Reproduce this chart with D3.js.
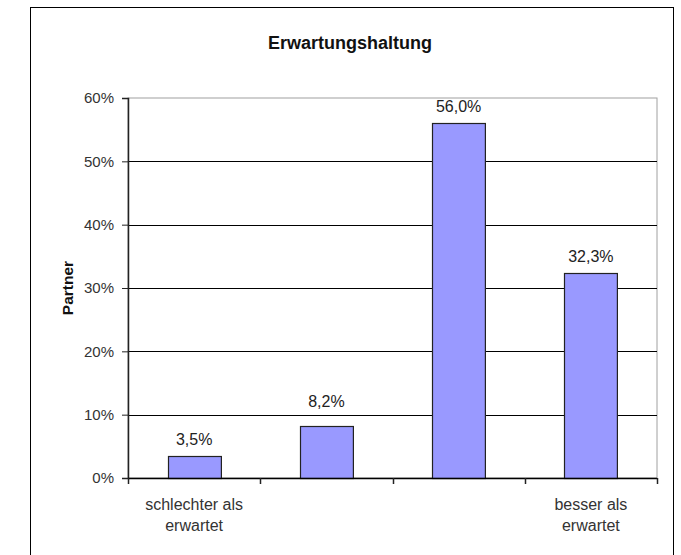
<!DOCTYPE html>
<html>
<head>
<meta charset="utf-8">
<script src="https://cdn.jsdelivr.net/npm/d3@7"></script>
<style>
  body { margin: 0; background: #fff; }
  svg { display: block; font-family: "Liberation Sans", Arial, sans-serif; }
</style>
</head>
<body>
<svg id="chart" width="681" height="555"></svg>
<script>
// chart data
const categories = ["schlechter als erwartet", "eher schlechter", "eher besser", "besser als erwartet"];
const categoryLabels = [["schlechter als", "erwartet"], [], [], ["besser als", "erwartet"]];
const values = [3.5, 8.2, 56.0, 32.3];
const yTicks = [0, 10, 20, 30, 40, 50, 60];

const svg = d3.select('#chart');
const width = 681, height = 555;
const margin = { top: 98, right: 24, bottom: 77, left: 128 };

// outer frame
svg.append("rect")
  .attr("x", 30.5).attr("y", 7.5)
  .attr("width", 643).attr("height", 560)
  .attr("fill", "#fff")
  .attr("stroke", "#000")
  .attr("stroke-width", 1);

const x = d3.scaleBand()
  .domain(categories)
  .range([margin.left, width - margin.right])
  .paddingInner(0.6)
  .paddingOuter(0.3);

const y = d3.scaleLinear()
  .domain([0, 60])
  .range([height - margin.bottom, margin.top]);

// plot area border (grey)
svg.append("rect")
  .attr("x", margin.left).attr("y", margin.top)
  .attr("width", width - margin.right - margin.left)
  .attr("height", y(0) - margin.top)
  .attr("fill", "none")
  .attr("stroke", "#a0a0a0")
  .attr("stroke-width", 1);

// gridlines
const gridValues = yTicks.filter(d => d > 0 && d < 60);
svg.append("g")
  .selectAll("line")
  .data(gridValues)
  .join("line")
  .attr("x1", margin.left)
  .attr("x2", width - margin.right)
  .attr("y1", d => Math.round(y(d)) + 0.5)
  .attr("y2", d => Math.round(y(d)) + 0.5)
  .attr("stroke", "#000")
  .attr("stroke-width", 1);

// bars
svg.append("g")
  .selectAll("rect")
  .data(values)
  .join("rect")
  .attr("x", (d, i) => Math.round(x(categories[i])) + 0.5)
  .attr("y", d => Math.round(y(d)) + 0.5)
  .attr("width", x.bandwidth())
  .attr("height", d => y(0) - Math.round(y(d)))
  .attr("fill", "#9999ff")
  .attr("stroke", "#222")
  .attr("stroke-width", 1.2);

// label baseline: above the bar, lifted over a gridline if they would cross
function labelY(v) {
  let base = y(v) - 11;
  gridValues.forEach(g => {
    const gy = y(g);
    if (gy > base - 13 && gy < base + 2) base = gy - 8;
  });
  return base;
}

// value labels
svg.append("g")
  .selectAll("text")
  .data(values)
  .join("text")
  .attr("x", (d, i) => x(categories[i]) + x.bandwidth() / 2)
  .attr("y", d => labelY(d))
  .attr("text-anchor", "middle")
  .style("font-size", "16px")
  .style("fill", "#222")
  .text(d => d3.format(".1f")(d).replace(".", ",") + "%");

// y axis
const yAxis = svg.append("g")
  .attr("transform", `translate(${margin.left},0)`)
  .call(d3.axisLeft(y).tickValues(yTicks).tickSize(6).tickPadding(8).tickFormat(d => d + "%"));
yAxis.select(".domain").attr("stroke", "#222").attr("stroke-width", 1.5);
yAxis.selectAll(".tick line").attr("stroke", "#222");
yAxis.selectAll(".tick text")
  .style("font-size", "15px")
  .style("fill", "#333")
  .style("font-family", "'Liberation Sans', Arial, sans-serif");

// x axis line and ticks at band boundaries
const bounds = d3.range(categories.length + 1).map(i => margin.left + i * (width - margin.right - margin.left) / categories.length);
svg.append("line")
  .attr("x1", margin.left).attr("x2", width - margin.right)
  .attr("y1", y(0) + 0.5).attr("y2", y(0) + 0.5)
  .attr("stroke", "#000").attr("stroke-width", 1.5);
svg.append("g")
  .selectAll("line")
  .data(bounds)
  .join("line")
  .attr("x1", d => Math.round(d) + 0.5).attr("x2", d => Math.round(d) + 0.5)
  .attr("y1", y(0)).attr("y2", y(0) + 6)
  .attr("stroke", "#222").attr("stroke-width", 1.5);

// category labels
const catG = svg.append("g")
  .selectAll("text")
  .data(categories)
  .join("text")
  .attr("x", d => x(d) + x.bandwidth() / 2)
  .attr("y", 510)
  .attr("text-anchor", "middle")
  .style("font-size", "16px")
  .style("fill", "#333");
catG.each(function(d, i) {
  d3.select(this).selectAll("tspan")
    .data(categoryLabels[i])
    .join("tspan")
    .attr("x", x(d) + x.bandwidth() / 2)
    .attr("dy", (t, j) => j === 0 ? 0 : 21)
    .text(t => t);
});

// title
svg.append("text")
  .attr("x", 350)
  .attr("y", 49)
  .attr("text-anchor", "middle")
  .style("font-size", "18px")
  .style("font-weight", "bold")
  .style("fill", "#111")
  .text("Erwartungshaltung");

// y axis title
svg.append("text")
  .attr("transform", `translate(73,${(y(0) + margin.top) / 2}) rotate(-90)`)
  .attr("text-anchor", "middle")
  .style("font-size", "15.5px")
  .style("font-weight", "bold")
  .style("fill", "#111")
  .text("Partner");
</script>
</body>
</html>
